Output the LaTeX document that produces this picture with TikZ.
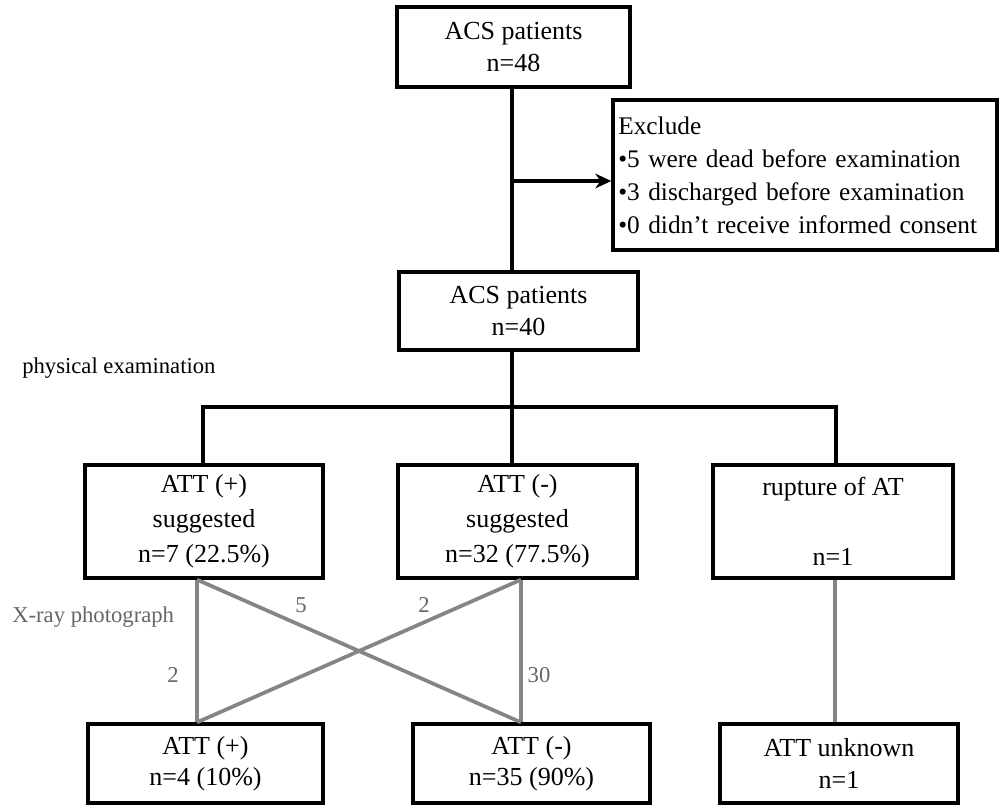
\documentclass[tikz,border=0pt]{standalone}
\usepackage{fontspec}
\setmainfont{Liberation Serif}
\usetikzlibrary{arrows.meta}
\begin{document}
\begin{tikzpicture}[x=0.75pt,y=-0.75pt,
  box/.style={draw=black,line width=2.5pt,align=center,inner sep=0pt,
    font=\fontsize{19.5}{24}\selectfont},
  graylink/.style={draw=black!48,line width=2.8pt},
  treeline/.style={draw=black,line width=2.5pt},
  lbl/.style={text=black!60,inner sep=0pt,font=\fontsize{17}{20}\selectfont},
  side/.style={inner sep=0pt,font=\fontsize{17}{20}\selectfont}]
\useasboundingbox (0,0) rectangle (999,806);

% boxes
\node[box,minimum width=174.75pt,minimum height=60pt] (b1) at (513.5,47) {ACS patients\\n=48};
\node[box,minimum width=288pt,minimum height=112.5pt,align=left,text width=280pt,
      font=\fontsize{19}{24.8}\selectfont] (exc) at (805,175)
  {Exclude\\\textbullet5 were dead before examination\\\textbullet3 discharged before examination\\\textbullet0 didn’t receive informed consent};
\node[box,minimum width=179.25pt,minimum height=58.5pt] (b2) at (518.5,311) {ACS patients\\n=40};
\node[box,minimum width=178.5pt,minimum height=84.75pt,font=\fontsize{19.5}{26.2}\selectfont] (b3) at (204,521.5) {ATT (+)\\suggested\\n=7 (22.5\%)};
\node[box,minimum width=179.25pt,minimum height=84.75pt,font=\fontsize{19.5}{26.2}\selectfont] (b4) at (517.5,521.5) {ATT (-)\\suggested\\n=32 (77.5\%)};
\node[box,minimum width=180pt,minimum height=84.75pt,font=\fontsize{19.5}{26.2}\selectfont] (b5) at (833,521.5) {rupture of AT\\[26.2pt]n=1};
\node[box,minimum width=176.25pt,minimum height=59.25pt,font=\fontsize{19.5}{23.5}\selectfont] (b6) at (205.5,763.5) {ATT (+)\\n=4 (10\%)};
\node[box,minimum width=177.75pt,minimum height=59.25pt,font=\fontsize{19.5}{23.5}\selectfont] (b7) at (531.5,763.5) {ATT (-)\\n=35 (90\%)};
\node[box,minimum width=178.5pt,minimum height=59.25pt,font=\fontsize{19.5}{23.5}\selectfont] (b8) at (839,763.5) {ATT unknown\\n=1};

% side texts
\node[side,anchor=west] (pe) at (22,368) {physical examination};
\node[lbl,anchor=west] (xr) at (12,617) {X-ray photograph};
\node[lbl] (l5) at (301,605) {5};
\node[lbl] (l2a) at (424,605) {2};
\node[lbl] (l2b) at (173,675) {2};
\node[lbl] (l30) at (539,675) {30};

% main spine
\coordinate (sp) at (512,181);
\coordinate (j) at (512,407);
\coordinate (jl) at (203,407);
\coordinate (jr) at (836,407);
\draw[treeline] (b1.south -| sp) -- (b2.north -| sp);
\draw[treeline,-{Stealth[length=12pt,width=11pt]}] (sp) -- (exc.west |- sp);
\draw[treeline] (b2.south -| j) -- (j);
\draw[treeline,line cap=rect] (jl) -- (jr);
\draw[treeline] (jl) -- (jl |- b3.north);
\draw[treeline] (j) -- (j |- b4.north);
\draw[treeline] (jr) -- (jr |- b5.north);

% x-ray links
\coordinate (xa) at (197,0);
\coordinate (xb) at (521,0);
\coordinate (xc) at (835,0);
\draw[graylink] (b3.south -| xa) -- (b6.north -| xa);
\draw[graylink] (b3.south -| xa) -- (b7.north -| xb);
\draw[graylink] (b4.south -| xb) -- (b6.north -| xa);
\draw[graylink] (b4.south -| xb) -- (b7.north -| xb);
\draw[graylink] (b5.south -| xc) -- (b8.north -| xc);
\end{tikzpicture}
\end{document}
